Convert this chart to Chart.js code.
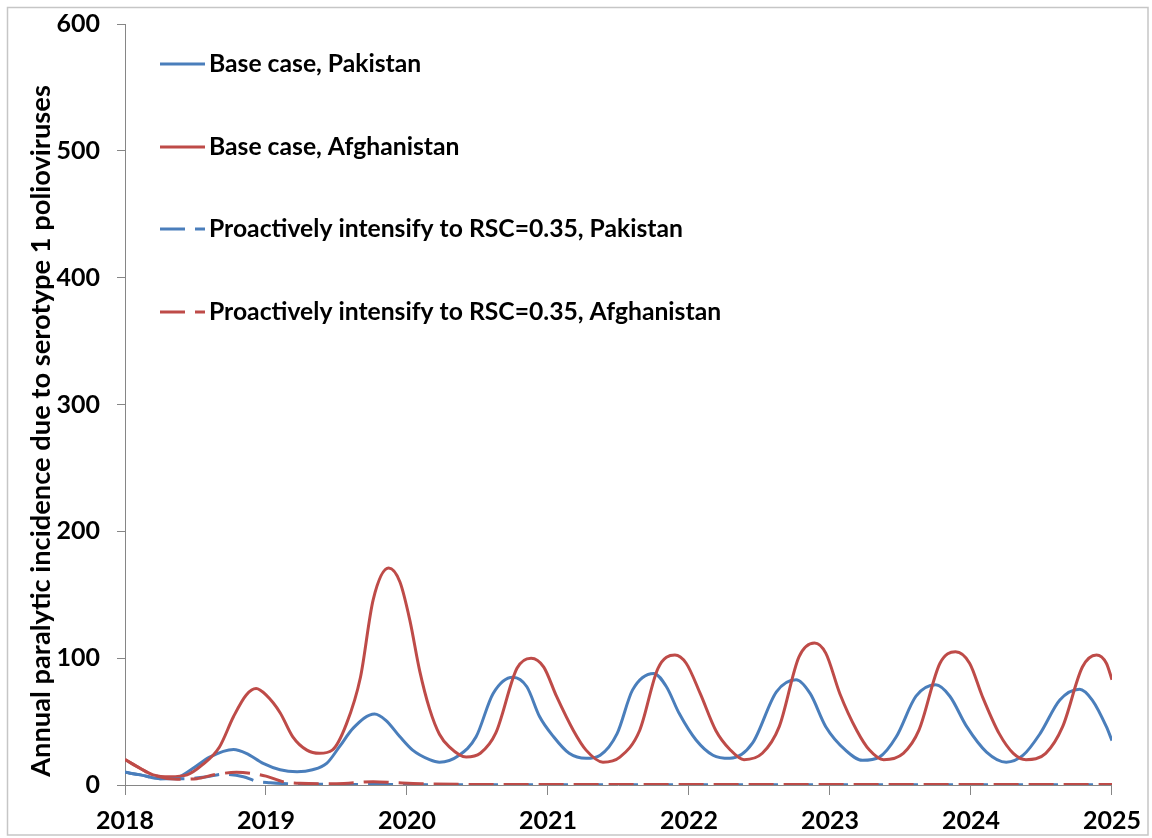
<!DOCTYPE html>
<html>
<head>
<meta charset="utf-8">
<script src="https://cdn.jsdelivr.net/npm/chart.js@4/dist/chart.umd.min.js"></script>
<style>
  html, body { margin: 0; padding: 0; background: #ffffff; }
  #wrap { width: 1152px; height: 838px; position: relative; }
</style>
</head>
<body>
<div id="wrap"><canvas id="chart" width="1152" height="838"></canvas></div>
<script>
// Modelled annual paralytic incidence (serotype 1), by year fraction
const basePakYears = [2018.00, 2018.11, 2018.25, 2018.37, 2018.48, 2018.60, 2018.77, 2018.86, 2018.98, 2019.10, 2019.22, 2019.33, 2019.43, 2019.52, 2019.62, 2019.77, 2019.85, 2019.95, 2020.04, 2020.16, 2020.23, 2020.37, 2020.49, 2020.61, 2020.75, 2020.85, 2020.94, 2021.04, 2021.15, 2021.27, 2021.37, 2021.49, 2021.60, 2021.75, 2021.84, 2021.93, 2022.05, 2022.17, 2022.29, 2022.45, 2022.62, 2022.76, 2022.86, 2022.97, 2023.11, 2023.23, 2023.35, 2023.47, 2023.61, 2023.75, 2023.85, 2023.97, 2024.11, 2024.25, 2024.37, 2024.49, 2024.63, 2024.77, 2024.86, 2024.96, 2025.00];
const basePakValues = [10, 8, 5, 6, 13, 22, 28, 25, 17, 12, 10.5, 12, 17, 30, 45, 56, 51, 38, 27.5, 20, 18, 23.5, 38, 72, 85, 77.5, 54, 38, 25, 21, 23.5, 40.5, 75, 88, 77.5, 56.5, 35.5, 23.5, 21, 33, 73.5, 83, 72, 46, 27.5, 19.5, 22, 38, 70, 79, 70, 46, 26, 18, 23.5, 40.5, 67, 75.5, 67, 46, 35];

const baseAfgYears = [2018.00, 2018.11, 2018.20, 2018.32, 2018.44, 2018.55, 2018.67, 2018.77, 2018.86, 2018.93, 2019.00, 2019.10, 2019.19, 2019.29, 2019.38, 2019.47, 2019.57, 2019.67, 2019.76, 2019.87, 2019.95, 2020.02, 2020.09, 2020.16, 2020.23, 2020.30, 2020.42, 2020.52, 2020.63, 2020.78, 2020.88, 2020.97, 2021.06, 2021.18, 2021.27, 2021.39, 2021.51, 2021.65, 2021.78, 2021.90, 2021.98, 2022.08, 2022.19, 2022.29, 2022.39, 2022.52, 2022.64, 2022.78, 2022.89, 2022.97, 2023.07, 2023.19, 2023.28, 2023.38, 2023.52, 2023.63, 2023.78, 2023.89, 2023.99, 2024.08, 2024.20, 2024.30, 2024.39, 2024.53, 2024.65, 2024.79, 2024.89, 2024.96, 2025.00];
const baseAfgValues = [20, 13, 8, 6.5, 8, 16, 30, 54, 71, 76, 71, 57, 38, 27.5, 25, 27.5, 48, 85, 146, 171, 160, 130, 90, 60, 40, 30, 22, 25, 41, 92, 100, 93, 70, 43, 27.5, 18, 22, 43, 92, 102.5, 96, 72, 43, 28, 20, 25, 46, 101, 112, 104, 72, 43, 27.5, 20, 25, 43, 96, 105, 96, 70, 40.5, 25, 20, 25, 46, 93, 102.5, 96, 83];

const proPakYears = [2018.00, 2018.11, 2018.25, 2018.44, 2018.58, 2018.70, 2018.84, 2018.93, 2019.03, 2019.15, 2019.40, 2020.00, 2021.00, 2022.00, 2023.00, 2024.00, 2025.00];
const proPakValues = [10, 8, 5, 5, 6.5, 8.5, 6.5, 3, 1.8, 1, 0.5, 0.3, 0.2, 0.2, 0.2, 0.2, 0.2];

const proAfgYears = [2018.00, 2018.20, 2018.37, 2018.51, 2018.63, 2018.79, 2018.91, 2019.00, 2019.12, 2019.24, 2019.50, 2019.76, 2019.92, 2020.10, 2020.40, 2021.00, 2022.00, 2023.00, 2024.00, 2025.00];
const proAfgValues = [20, 8, 4.5, 5, 8, 10, 9, 7, 2.6, 1.3, 1, 2.6, 1.8, 1, 0.5, 0.3, 0.3, 0.3, 0.3, 0.3];

const seriesNames = [
  'Base case, Pakistan',
  'Base case, Afghanistan',
  'Proactively intensify to RSC=0.35, Pakistan',
  'Proactively intensify to RSC=0.35, Afghanistan'
];
const yearTicks = ['2018', '2019', '2020', '2021', '2022', '2023', '2024', '2025'];
const incidenceTicks = [0, 100, 200, 300, 400, 500, 600];
const yTitle = 'Annual paralytic incidence due to serotype 1 polioviruses';

const BLUE = '#4a7ebb';
const RED = '#be4b48';
const DASH = [25, 10];
const FONT = 'Lato, "Open Sans", sans-serif';

function pairs(xs, ys) { return xs.map((x, i) => ({ x: x, y: ys[i] })); }

// Frame around the whole figure, plus white background
const framePlugin = {
  id: 'frame',
  beforeDraw(chart) {
    const ctx = chart.ctx;
    ctx.save();
    ctx.fillStyle = '#ffffff';
    ctx.fillRect(0, 0, chart.width, chart.height);
    ctx.strokeStyle = '#c6c6c6';
    ctx.lineWidth = 1.5;
    ctx.strokeRect(7.5, 7.5, chart.width - 4 - 7.5, chart.height - 3 - 7.5);
    ctx.restore();
  }
};

// Rotated y-axis title
const yTitlePlugin = {
  id: 'yTitle',
  afterDraw(chart) {
    const ctx = chart.ctx;
    ctx.save();
    ctx.translate(41, 431);
    ctx.rotate(-Math.PI / 2);
    ctx.font = 'bold 27.3px ' + FONT;
    ctx.fillStyle = '#000000';
    ctx.textAlign = 'center';
    ctx.textBaseline = 'middle';
    ctx.fillText(yTitle, 0, 0);
    ctx.restore();
  }
};

// Legend drawn inside the plot area, one row per series
const innerLegendPlugin = {
  id: 'innerLegend',
  afterDraw(chart) {
    const ctx = chart.ctx;
    const x0 = 160, x1 = 205, tx = 209;
    const rows = [64, 147, 229, 312];
    ctx.save();
    chart.data.datasets.forEach((ds, i) => {
      const y = rows[i];
      ctx.beginPath();
      ctx.strokeStyle = ds.borderColor;
      ctx.lineWidth = 3;
      ctx.lineCap = 'butt';
      ctx.setLineDash(ds.borderDash || []);
      ctx.moveTo(x0, y);
      ctx.lineTo(x1, y);
      ctx.stroke();
      ctx.setLineDash([]);
      ctx.font = 'bold 24.7px ' + FONT;
      ctx.fillStyle = '#000000';
      ctx.textAlign = 'left';
      ctx.textBaseline = 'middle';
      ctx.fillText(ds.label, tx, y);
    });
    ctx.restore();
  }
};

const datasets = [
  { label: seriesNames[0], data: pairs(basePakYears, basePakValues), borderColor: BLUE, order: 4 },
  { label: seriesNames[1], data: pairs(baseAfgYears, baseAfgValues), borderColor: RED, order: 3 },
  { label: seriesNames[2], data: pairs(proPakYears, proPakValues), borderColor: BLUE, borderDash: DASH, order: 2 },
  { label: seriesNames[3], data: pairs(proAfgYears, proAfgValues), borderColor: RED, borderDash: DASH, order: 1 }
].map(d => Object.assign({
  borderWidth: 3,
  pointRadius: 0,
  fill: false,
  cubicInterpolationMode: 'monotone',
  backgroundColor: d.borderColor
}, d));

new Chart(document.getElementById('chart'), {
  type: 'line',
  data: { datasets: datasets },
  plugins: [framePlugin, yTitlePlugin, innerLegendPlugin],
  options: {
    responsive: false,
    animation: false,
    events: [],
    layout: { padding: { left: 0, top: 24, right: 39, bottom: 0 } },
    plugins: { legend: { display: false }, tooltip: { enabled: false } },
    scales: {
      x: {
        type: 'linear',
        min: 2018,
        max: 2025,
        afterBuildTicks(scale) {
          scale.ticks = yearTicks.map(t => ({ value: Number(t) }));
        },
        afterFit(scale) { scale.height = 53; },
        border: { color: '#868686', width: 1 },
        grid: { drawOnChartArea: false, tickLength: 10, color: '#868686' },
        ticks: {
          padding: 11,
          color: '#000000',
          font: { family: FONT, size: 25, weight: 'bold' },
          callback: (v) => yearTicks.find(t => Number(t) === v) || ''
        }
      },
      y: {
        min: 0,
        max: 600,
        afterBuildTicks(scale) {
          scale.ticks = incidenceTicks.map(v => ({ value: v }));
        },
        afterFit(scale) {
          scale.width = 125;
          scale.paddingTop = 0;
          scale.paddingBottom = 0;
        },
        border: { color: '#868686', width: 1 },
        grid: { drawOnChartArea: false, tickLength: 8, color: '#868686' },
        ticks: {
          padding: 17,
          color: '#000000',
          font: { family: FONT, size: 25, weight: 'bold' },
          callback: (v) => String(v)
        }
      }
    }
  }
});
</script>
</body>
</html>
